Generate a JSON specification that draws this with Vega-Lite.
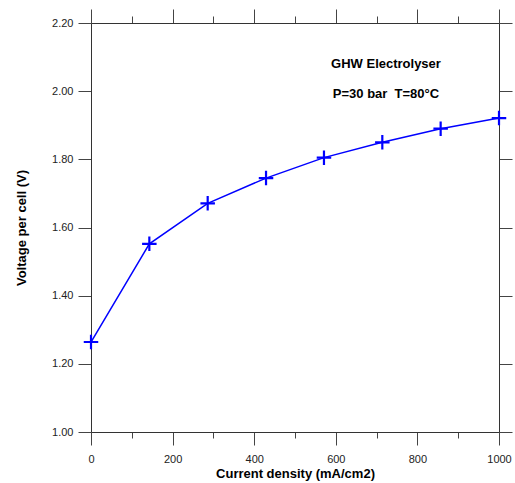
{
  "$schema": "https://vega.github.io/schema/vega-lite/v6.json",
  "autosize": "none",
  "width": 408,
  "height": 409,
  "padding": {"left": 91, "top": 23, "right": 16, "bottom": 51},
  "background": "white",
  "config": {
    "view": {"stroke": null},
    "font": "Liberation Sans",
    "axis": {"grid": false, "domainColor": "#333333", "tickColor": "#444444", "labelColor": "#222222", "labelFont": "Liberation Sans", "labelFontSize": 11, "titleFont": "Liberation Sans", "titleFontSize": 13, "titleFontWeight": "bold", "titleColor": "#000000"}
  },
  "datasets": {
    "pts": [
      {"current": 0, "voltage": 1.264},
      {"current": 143, "voltage": 1.552},
      {"current": 286, "voltage": 1.671},
      {"current": 429, "voltage": 1.745},
      {"current": 571, "voltage": 1.805},
      {"current": 714, "voltage": 1.850},
      {"current": 857, "voltage": 1.890},
      {"current": 1000, "voltage": 1.921}
    ],
    "notes": [
      {"current": 723, "voltage": 2.079, "label": "GHW Electrolyser"},
      {"current": 723, "voltage": 1.991, "label": "P=30 bar\u00a0\u00a0T=80°C"}
    ]
  },
  "layer": [
    {
      "data": {"name": "pts"},
      "mark": {"type": "line", "color": "#0000FF", "strokeWidth": 1.5},
      "encoding": {
        "x": {"field": "current", "type": "quantitative", "scale": {"domain": [0, 1000], "nice": false, "zero": false},
          "axis": {"orient": "bottom", "title": "Current density (mA/cm2)", "values": [0,100,200,300,400,500,600,700,800,900,1000],
            "format": "d", "labelFlush": false,
            "labelExpr": "datum.value % 200 === 0 ? datum.label : ''",
            "tickSize": {"condition": {"test": "datum.value % 200 === 0", "value": 13}, "value": 6},
            "labelPadding": 8, "titleY": 35, "titleX": 204}},
        "y": {"field": "voltage", "type": "quantitative", "scale": {"domain": [1.0, 2.2], "nice": false, "zero": false},
          "axis": {"orient": "left", "title": "Voltage per cell (V)", "values": [1.0,1.2,1.4,1.6,1.8,2.0,2.2], "format": ".2f", "labelFlush": false, "tickSize": 13, "labelPadding": 5, "titleX": -63}}
      }
    },
    {
      "data": {"name": "pts"},
      "mark": {"type": "point", "shape": "M-1,0L1,0M0,-1L0,1", "filled": false, "color": "#0000FF", "strokeWidth": 2.2, "size": 210, "opacity": 1},
      "encoding": {
        "x": {"field": "current", "type": "quantitative",
          "axis": {"orient": "top", "title": null, "values": [0,100,200,300,400,500,600,700,800,900,1000], "labels": false,
            "tickSize": {"condition": {"test": "datum.value % 200 === 0", "value": 14}, "value": 7}}},
        "y": {"field": "voltage", "type": "quantitative",
          "axis": {"orient": "right", "title": null, "values": [1.0,1.2,1.4,1.6,1.8,2.0,2.2], "labels": false, "tickSize": 13}}
      }
    },
    {
      "data": {"name": "notes"},
      "mark": {"type": "text", "font": "Liberation Sans", "fontSize": 13, "fontWeight": "bold", "color": "#000000", "align": "center", "baseline": "middle"},
      "encoding": {
        "x": {"field": "current", "type": "quantitative", "axis": null},
        "y": {"field": "voltage", "type": "quantitative", "axis": null},
        "text": {"field": "label"}
      }
    }
  ],
  "resolve": {"axis": {"x": "independent", "y": "independent"}}
}
